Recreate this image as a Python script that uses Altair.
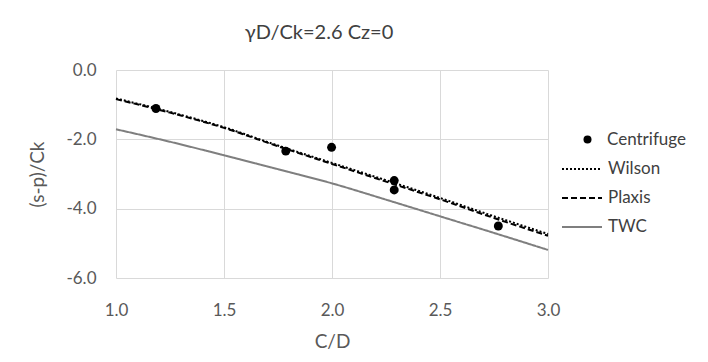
import altair as alt
import pandas as pd

# ---- data ----
cd_curve = [1.0, 1.25, 1.5, 1.75, 2.0, 2.25, 2.5, 2.75, 3.0]
wilson = [-0.82, -1.21, -1.65, -2.18, -2.68, -3.18, -3.69, -4.22, -4.73]
plaxis = [-0.84, -1.23, -1.67, -2.20, -2.71, -3.22, -3.73, -4.27, -4.78]
twc = [-1.71, -2.07, -2.46, -2.86, -3.27, -3.74, -4.22, -4.70, -5.19]

cd_pts = [1.185, 1.786, 1.998, 2.288, 2.288, 2.770]
centrifuge = [-1.11, -2.34, -2.23, -3.19, -3.46, -4.50]

models = ["Wilson", "Plaxis", "TWC"]
x_ticks = [1.0, 1.5, 2.0, 2.5, 3.0]
y_ticks = [-6.0, -4.0, -2.0, 0.0]

FONT = "Lato"
TXT = "#595959"

rows = []
for name, vals in zip(models, [wilson, plaxis, twc]):
    for x, y in zip(cd_curve, vals):
        rows.append({"Model": name, "CD": x, "SP": y})
df_lines = pd.DataFrame(rows)
df_pts = pd.DataFrame({"Source": ["Centrifuge"] * len(cd_pts), "CD": cd_pts, "SP": centrifuge})

x_enc = alt.X("CD:Q", scale=alt.Scale(domain=[1, 3], nice=False, zero=False),
              axis=alt.Axis(values=x_ticks, title="C/D", labelFlush=False,
                            labelPadding=24, titlePadding=14,
                            labelExpr="format(datum.value, '.1f')"))
y_enc = alt.Y("SP:Q", scale=alt.Scale(domain=[-6, 0], nice=False, zero=False),
              axis=alt.Axis(values=y_ticks, title="(s-p)/Ck", labelFlush=False,
                            labelPadding=20, titlePadding=18,
                            labelExpr="datum.value < 0 ? '-' + format(-datum.value, '.1f') : format(datum.value, '.1f')"))

line_legend = alt.Legend(
    orient="none", legendX=445, legendY=78, title=None,
    symbolType="stroke", symbolSize=1600, symbolStrokeWidth=2,
    rowPadding=-12, labelOffset=5, padding=0,
    labelFont=FONT, labelFontSize=17, labelColor="#404040",
)

lines = alt.Chart(df_lines).mark_line(strokeWidth=2, interpolate="monotone").encode(
    x=x_enc,
    y=y_enc,
    order="CD:Q",
    color=alt.Color("Model:N", scale=alt.Scale(domain=models, range=["#000000", "#000000", "#7f7f7f"]),
                    legend=line_legend),
    strokeDash=alt.StrokeDash("Model:N", scale=alt.Scale(domain=models, range=[[2, 2], [6, 3], [1, 0]]),
                              legend=line_legend),
    strokeWidth=alt.StrokeWidth("Model:N", scale=alt.Scale(domain=models, range=[2, 2, 2.5]), legend=None),
)

points = alt.Chart(df_pts).mark_point(filled=True, size=80, color="#000000", opacity=1).encode(
    x=alt.X("CD:Q"),
    y=alt.Y("SP:Q"),
    shape=alt.Shape("Source:N", scale=alt.Scale(domain=["Centrifuge"], range=["circle"]),
                    legend=alt.Legend(orient="none", legendX=463, legendY=61, title=None,
                                      symbolFillColor="#000000", symbolStrokeColor="#000000",
                                      symbolSize=64, symbolStrokeWidth=0, labelOffset=11, padding=0,
                                      labelFont=FONT, labelFontSize=17, labelColor="#404040")),
)

chart = alt.layer(lines, points).properties(
    width=432,
    height=208,
    title=alt.TitleParams("γD/Ck=2.6 Cz=0", font=FONT, fontSize=20, fontWeight="normal",
                          color="#404040", anchor="middle", dx=-13, offset=18),
    padding={"left": 108, "top": 62, "right": 152, "bottom": 76},
    autosize=alt.AutoSizeParams(type="none"),
).configure_view(stroke=None).configure_axis(
    grid=True, gridColor="#d9d9d9", gridWidth=1, domain=False, ticks=False, tickSize=0,
    labelFont=FONT, labelFontSize=17, labelColor=TXT,
    titleFont=FONT, titleFontSize=19, titleFontWeight="normal", titleColor=TXT,
)

chart.save("out.html", embed_options={"renderer": "svg", "actions": False})
